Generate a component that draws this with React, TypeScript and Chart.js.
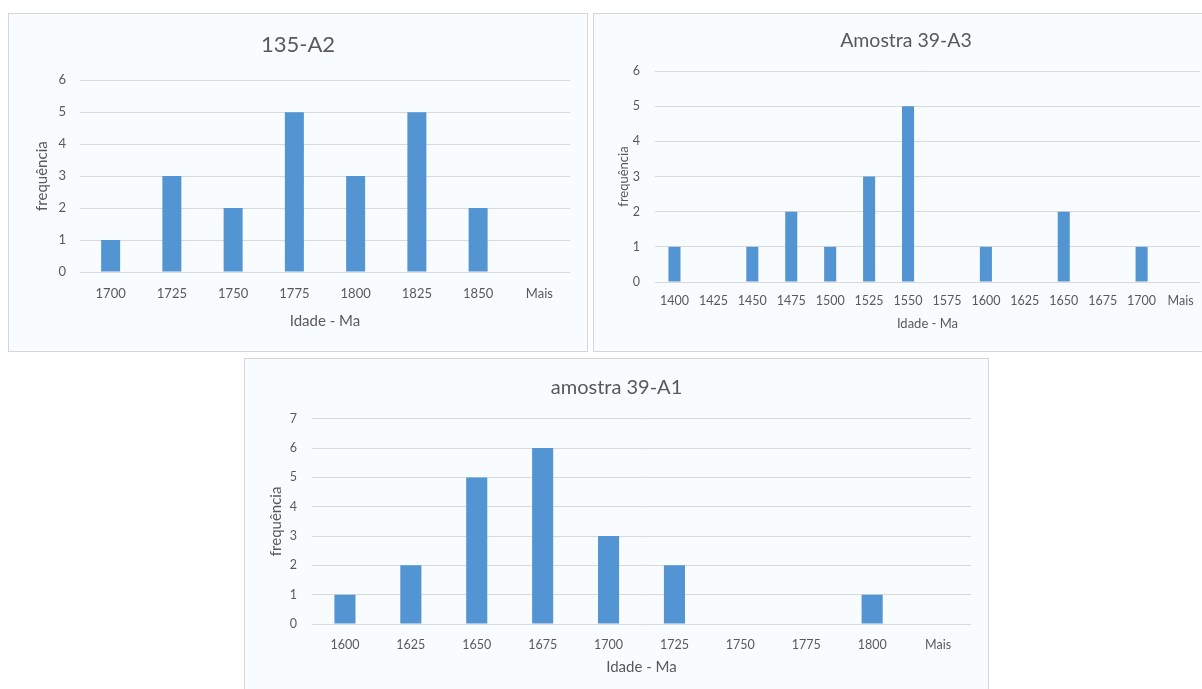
import React, { useEffect, useRef } from "react";
import { Chart, registerables } from "chart.js";

Chart.register(...registerables);

// ---- Data ----
const a2Labels = ["1700", "1725", "1750", "1775", "1800", "1825", "1850", "Mais"];
const a2Values = [1, 3, 2, 5, 3, 5, 2, 0];

const a3Labels = ["1400", "1425", "1450", "1475", "1500", "1525", "1550", "1575", "1600", "1625", "1650", "1675", "1700", "Mais"];
const a3Values = [1, 0, 1, 2, 1, 3, 5, 0, 1, 0, 2, 0, 1, 0];

const a1Labels = ["1600", "1625", "1650", "1675", "1700", "1725", "1750", "1775", "1800", "Mais"];
const a1Values = [1, 2, 5, 6, 3, 2, 0, 0, 1, 0];

const titleA2 = "135-A2";
const titleA3 = "Amostra 39-A3";
const titleA1 = "amostra 39-A1";
const xTitle = "Idade - Ma";
const yTitle = "frequência";

const FONT = "Lato, 'Open Sans', sans-serif";
const TEXT = "#595959";
const GRID = "#d9d9d9";
const BAR = "#5394d3";

type PanelCfg = {
  left: number;
  top: number;
  width: number;
  height: number;
  labels: string[];
  values: number[];
  title: string;
  titleSize: number;
  titlePadTop: number;
  titlePadBottom: number;
  yMax: number;
  yAxisWidth: number;
  xAxisHeight: number;
  leftPad: number;
  rightPad: number;
  tickSize: number;
  xTickPad: number;
  yTickPad: number;
  axisTitleSize: number;
  xTitlePad: number;
  yTitlePad: number;
  barPct: number;
};

function Panel(p: PanelCfg) {
  const ref = useRef<HTMLCanvasElement | null>(null);
  useEffect(() => {
    if (!ref.current) return;
    const chart = new Chart(ref.current, {
      type: "bar",
      data: {
        labels: p.labels,
        datasets: [
          {
            data: p.values,
            backgroundColor: BAR,
            borderWidth: 0,
            barPercentage: p.barPct,
            categoryPercentage: 1,
          },
        ],
      },
      options: {
        animation: false,
        responsive: false,
        maintainAspectRatio: false,
        layout: { padding: { left: p.leftPad, right: p.rightPad, top: 0, bottom: 0 } },
        plugins: {
          legend: { display: false },
          tooltip: { enabled: false },
          title: {
            display: true,
            text: p.title,
            color: TEXT,
            font: { family: FONT, size: p.titleSize, weight: "normal" },
            padding: { top: p.titlePadTop, bottom: p.titlePadBottom },
          },
        },
        scales: {
          x: {
            grid: { display: false, drawTicks: false },
            border: { display: false },
            ticks: {
              color: TEXT,
              font: { family: FONT, size: p.tickSize },
              padding: p.xTickPad,
              maxRotation: 0,
              autoSkip: false,
            },
            title: {
              display: true,
              text: xTitle,
              color: TEXT,
              font: { family: FONT, size: p.axisTitleSize },
              padding: { top: 0, bottom: p.xTitlePad },
            },
            afterFit: (s: any) => {
              s.height = p.xAxisHeight;
            },
          },
          y: {
            min: 0,
            max: p.yMax,
            grid: { color: GRID, lineWidth: 1, drawTicks: false },
            border: { display: false },
            ticks: {
              stepSize: 1,
              color: TEXT,
              font: { family: FONT, size: p.tickSize },
              padding: p.yTickPad,
            },
            title: {
              display: true,
              text: yTitle,
              color: TEXT,
              font: { family: FONT, size: p.axisTitleSize },
              padding: { top: p.yTitlePad, bottom: 0 },
            },
            afterFit: (s: any) => {
              s.width = p.yAxisWidth;
            },
          },
        },
      },
    });
    return () => chart.destroy();
  }, []);
  return (
    <div
      style={{
        position: "absolute",
        left: p.left,
        top: p.top,
        width: p.width,
        height: p.height,
        boxSizing: "border-box",
        border: "1.5px solid #d6d6d6",
        background: "#f9fcfe",
      }}
    >
      <canvas
        ref={ref}
        width={p.width - 2}
        height={p.height - 2}
        style={{ position: "absolute", left: 0, top: 0 }}
      />
    </div>
  );
}

export default function App() {
  return (
    <div
      style={{
        position: "absolute",
        left: 0,
        top: 0,
        width: 1202,
        height: 689,
        overflow: "hidden",
        background: "#ffffff",
      }}
    >
      <Panel
        left={8}
        top={13}
        width={580}
        height={339}
        labels={a2Labels}
        values={a2Values}
        title={titleA2}
        titleSize={22}
        titlePadTop={17.4}
        titlePadBottom={22.4}
        yMax={6}
        yAxisWidth={54}
        xAxisHeight={79}
        leftPad={17}
        rightPad={17}
        tickSize={13}
        xTickPad={14}
        yTickPad={14}
        axisTitleSize={15}
        xTitlePad={21}
        yTitlePad={7}
        barPct={0.31}
      />
      <Panel
        left={593}
        top={13}
        width={620}
        height={339}
        labels={a3Labels}
        values={a3Values}
        title={titleA3}
        titleSize={19.5}
        titlePadTop={14.8}
        titlePadBottom={18.8}
        yMax={6}
        yAxisWidth={43}
        xAxisHeight={69}
        leftPad={18}
        rightPad={12}
        tickSize={12.5}
        xTickPad={11}
        yTickPad={15}
        axisTitleSize={13}
        xTitlePad={19.5}
        yTitlePad={4}
        barPct={0.31}
      />
      <Panel
        left={244}
        top={358}
        width={745}
        height={345}
        labels={a1Labels}
        values={a1Values}
        title={titleA1}
        titleSize={20}
        titlePadTop={16.4}
        titlePadBottom={19.4}
        yMax={7}
        yAxisWidth={50}
        xAxisHeight={78}
        leftPad={17}
        rightPad={17}
        tickSize={12.5}
        xTickPad={13}
        yTickPad={15}
        axisTitleSize={15}
        xTitlePad={26}
        yTitlePad={5}
        barPct={0.32}
      />
    </div>
  );
}
